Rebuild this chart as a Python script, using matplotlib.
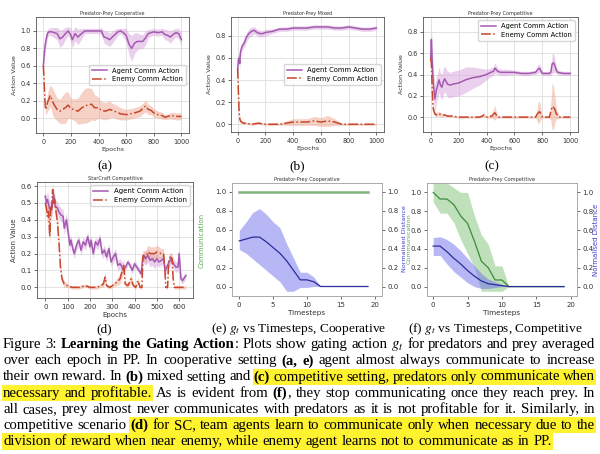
import numpy as np
import matplotlib
matplotlib.use('Agg')
import matplotlib.pyplot as plt
from matplotlib.patches import Rectangle

plt.rcParams['mathtext.fontset'] = 'stix'
plt.rcParams['font.family'] = ['DejaVu Sans']

# ------------------------------------------------------------------ data
# (a) Predator-Prey Cooperative
a_agent_x = [0, 10, 20, 30, 40, 60, 80, 100, 120, 140, 160, 180, 200, 210, 230, 250, 270, 300, 330, 360,
             400, 420, 440, 460, 480, 500, 520, 540, 560, 580, 600, 620, 640, 660, 680, 700, 720, 740, 760, 780,
             800, 830, 860, 880, 900, 920, 940, 960, 980, 1000]
a_agent = [0.60, 0.80, 0.90, 0.97, 0.99, 0.99, 0.98, 0.97, 0.91, 0.93, 0.97, 1.0, 0.95, 0.90, 0.97, 0.93, 0.96, 1.0, 1.0, 1.0,
           1.0, 1.0, 0.93, 0.92, 0.90, 0.93, 0.96, 0.99, 1.0, 0.98, 0.95, 0.85, 0.80, 0.86, 0.88, 0.88, 0.88, 0.92, 0.97, 0.98,
           0.99, 0.98, 0.99, 0.96, 0.95, 0.93, 0.96, 0.98, 0.97, 0.90]
a_agent_sd = [0.05, 0.10, 0.08, 0.05, 0.04, 0.05, 0.06, 0.07, 0.10, 0.09, 0.07, 0.05, 0.08, 0.10, 0.08, 0.09, 0.07, 0.03, 0.03, 0.03,
              0.03, 0.04, 0.07, 0.08, 0.08, 0.07, 0.06, 0.04, 0.03, 0.05, 0.08, 0.12, 0.15, 0.12, 0.10, 0.08, 0.08, 0.08, 0.05, 0.04,
              0.04, 0.04, 0.04, 0.06, 0.06, 0.07, 0.06, 0.05, 0.06, 0.08]
a_enemy_x = [0, 5, 10, 15, 20, 30, 40, 50, 60, 70, 80, 100, 120, 140, 160, 180, 200, 220, 250, 280,
             300, 320, 350, 370, 400, 420, 450, 480, 500, 530, 560, 600, 630, 660, 700, 720, 740, 760, 780, 800,
             830, 860, 880, 900, 930, 960, 1000]
a_enemy = [0.60, 0.45, 0.25, 0.12, 0.10, 0.18, 0.22, 0.26, 0.22, 0.18, 0.15, 0.10, 0.08, 0.10, 0.12, 0.15, 0.11, 0.10, 0.08, 0.12,
           0.14, 0.15, 0.16, 0.12, 0.12, 0.09, 0.08, 0.10, 0.09, 0.07, 0.05, 0.04, 0.05, 0.06, 0.08, 0.11, 0.14, 0.10, 0.09, 0.06,
           0.04, 0.03, 0.01, 0.02, 0.03, 0.02, 0.02]
a_enemy_sd = [0.05, 0.08, 0.08, 0.06, 0.06, 0.10, 0.12, 0.12, 0.14, 0.15, 0.15, 0.13, 0.14, 0.16, 0.18, 0.15, 0.12, 0.12, 0.15, 0.18,
              0.20, 0.20, 0.18, 0.15, 0.12, 0.10, 0.10, 0.10, 0.08, 0.08, 0.07, 0.06, 0.06, 0.06, 0.06, 0.06, 0.07, 0.06, 0.05, 0.05,
              0.04, 0.04, 0.03, 0.03, 0.04, 0.04, 0.04]

# (b) Predator-Prey Mixed
b_agent_x = [0, 5, 10, 15, 20, 30, 40, 50, 60, 80, 100, 120, 140, 160, 180, 200, 250, 300, 350, 400,
             450, 500, 550, 600, 650, 700, 750, 800, 850, 900, 950, 1000]
b_agent = [0.50, 0.58, 0.60, 0.55, 0.65, 0.70, 0.72, 0.74, 0.78, 0.82, 0.84, 0.85, 0.83, 0.82, 0.82, 0.83, 0.84, 0.86, 0.86, 0.87,
           0.87, 0.87, 0.88, 0.88, 0.88, 0.87, 0.87, 0.88, 0.87, 0.86, 0.86, 0.87]
b_agent_sd = [0.03, 0.05, 0.05, 0.05, 0.05, 0.04, 0.04, 0.04, 0.04, 0.04, 0.04, 0.03, 0.03, 0.03, 0.03, 0.03, 0.02, 0.02, 0.02, 0.02,
              0.02, 0.02, 0.02, 0.02, 0.02, 0.02, 0.02, 0.02, 0.02, 0.02, 0.02, 0.02]
b_enemy_x = [0, 5, 10, 15, 20, 30, 40, 60, 100, 150, 200, 250, 300, 350, 400, 450, 500, 550, 600, 650,
             700, 750, 800, 900, 1000]
b_enemy = [0.50, 0.30, 0.12, 0.05, 0.03, 0.02, 0.01, 0.01, 0.00, 0.01, 0.00, 0.00, 0.00, 0.01, 0.02, 0.02, 0.02, 0.03, 0.02, 0.03,
           0.02, 0.00, 0.00, 0.00, 0.00]
b_enemy_sd = [0.03, 0.05, 0.04, 0.03, 0.02, 0.01, 0.01, 0.01, 0.01, 0.01, 0.01, 0.01, 0.01, 0.02, 0.03, 0.03, 0.03, 0.04, 0.04, 0.05,
              0.03, 0.01, 0.01, 0.01, 0.01]

# (c) Predator-Prey Competitive
c_agent_x = [0, 5, 10, 15, 20, 30, 40, 50, 60, 70, 80, 90, 100, 120, 140, 160, 200, 250, 300, 350,
             400, 430, 450, 460, 480, 500, 550, 600, 650, 700, 750, 770, 780, 790, 800, 850, 860, 870, 880, 890,
             900, 910, 950, 1000]
c_agent = [0.55, 0.73, 0.55, 0.40, 0.30, 0.17, 0.25, 0.30, 0.35, 0.30, 0.28, 0.33, 0.36, 0.31, 0.30, 0.31, 0.32, 0.35, 0.37, 0.38,
           0.40, 0.42, 0.43, 0.46, 0.43, 0.42, 0.42, 0.42, 0.41, 0.41, 0.42, 0.45, 0.46, 0.43, 0.41, 0.41, 0.42, 0.50, 0.51, 0.48,
           0.44, 0.42, 0.41, 0.41]
c_agent_sd = [0.05, 0.12, 0.15, 0.15, 0.15, 0.12, 0.12, 0.12, 0.12, 0.12, 0.12, 0.12, 0.12, 0.12, 0.12, 0.12, 0.12, 0.12, 0.10, 0.08,
              0.05, 0.04, 0.04, 0.05, 0.03, 0.03, 0.03, 0.02, 0.02, 0.02, 0.02, 0.04, 0.04, 0.03, 0.02, 0.02, 0.03, 0.09, 0.09, 0.06,
              0.03, 0.02, 0.02, 0.02]
c_enemy_x = [0, 5, 10, 15, 20, 30, 40, 50, 60, 80, 100, 120, 150, 200, 250, 300, 350, 370, 380, 390,
             400, 440, 450, 460, 470, 480, 500, 600, 700, 750, 760, 770, 780, 790, 800, 850, 860, 870, 880, 890,
             900, 920, 1000]
c_enemy = [0.55, 0.50, 0.30, 0.12, 0.07, 0.03, 0.02, 0.03, 0.03, 0.02, 0.02, 0.01, 0.01, 0.00, 0.00, 0.00, 0.00, 0.01, 0.02, 0.01,
           0.00, 0.01, 0.03, 0.04, 0.02, 0.00, 0.00, 0.00, 0.00, 0.00, 0.02, 0.04, 0.05, 0.03, 0.00, 0.00, 0.05, 0.10, 0.09, 0.07,
           0.03, 0.00, 0.00]
c_enemy_sd = [0.03, 0.05, 0.08, 0.05, 0.03, 0.02, 0.02, 0.02, 0.02, 0.02, 0.01, 0.01, 0.01, 0.01, 0.01, 0.01, 0.01, 0.01, 0.02, 0.01,
              0.01, 0.02, 0.05, 0.07, 0.03, 0.01, 0.01, 0.01, 0.01, 0.01, 0.05, 0.10, 0.10, 0.05, 0.01, 0.01, 0.08, 0.22, 0.20, 0.12,
              0.05, 0.01, 0.01]

# (d) StarCraft Competitive
d_agent_x = [0, 5, 10, 20, 30, 37, 45, 55, 60, 70, 80, 85, 95, 105, 110, 115, 125, 130, 140, 150,
             160, 170, 180, 190, 200, 205, 215, 225, 235, 245, 255, 265, 275, 285, 295, 305, 315, 325, 335, 345,
             350, 360, 370, 380, 390, 400, 410, 420, 430, 437, 450, 460, 470, 480, 490, 500, 510, 520, 530, 537,
             545, 555, 565, 575, 585, 595, 600, 608, 615, 625, 630]
d_agent = [0.54, 0.50, 0.52, 0.46, 0.47, 0.55, 0.48, 0.47, 0.45, 0.43, 0.42, 0.35, 0.40, 0.30, 0.25, 0.28, 0.22, 0.20, 0.25, 0.28,
           0.22, 0.27, 0.25, 0.30, 0.24, 0.28, 0.20, 0.27, 0.25, 0.29, 0.20, 0.22, 0.18, 0.23, 0.15, 0.18, 0.20, 0.13, 0.14, 0.12,
           0.10, 0.12, 0.15, 0.13, 0.10, 0.14, 0.12, 0.10, 0.08, 0.18, 0.17, 0.19, 0.16, 0.17, 0.15, 0.17, 0.15, 0.16, 0.17, 0.10,
           0.12, 0.15, 0.17, 0.14, 0.12, 0.12, 0.20, 0.05, 0.04, 0.06, 0.07]
d_agent_sd = [0.03, 0.04, 0.05, 0.05, 0.05, 0.04, 0.04, 0.04, 0.04, 0.04, 0.04, 0.04, 0.04, 0.04, 0.04, 0.03, 0.03, 0.03, 0.03, 0.03,
              0.03, 0.03, 0.03, 0.03, 0.03, 0.03, 0.03, 0.03, 0.03, 0.03, 0.03, 0.03, 0.03, 0.03, 0.03, 0.03, 0.03, 0.03, 0.03, 0.03,
              0.02, 0.02, 0.02, 0.02, 0.02, 0.02, 0.02, 0.02, 0.02, 0.03, 0.04, 0.04, 0.04, 0.04, 0.04, 0.04, 0.03, 0.03, 0.03, 0.03,
              0.03, 0.03, 0.03, 0.03, 0.03, 0.03, 0.03, 0.02, 0.02, 0.02, 0.02]
d_enemy_x = [0, 5, 10, 15, 20, 25, 28, 33, 38, 42, 48, 55, 62, 68, 75, 85, 100, 120, 150, 180,
             200, 230, 250, 260, 268, 275, 290, 300, 320, 335, 345, 352, 358, 370, 385, 395, 405, 415, 425, 433,
             438, 450, 460, 470, 490, 500, 520, 530, 536, 540, 548, 553, 560, 568, 573, 578, 600, 630]
d_enemy = [0.50, 0.47, 0.42, 0.45, 0.30, 0.48, 0.45, 0.58, 0.50, 0.52, 0.45, 0.38, 0.25, 0.12, 0.05, 0.02, 0.01, 0.00, 0.00, 0.01,
           0.00, 0.00, 0.01, 0.02, 0.06, 0.01, 0.00, 0.01, 0.03, 0.05, 0.10, 0.13, 0.02, 0.01, 0.05, 0.01, 0.00, 0.04, 0.00, 0.00,
           0.19, 0.18, 0.21, 0.20, 0.20, 0.21, 0.20, 0.20, 0.10, 0.00, 0.00, 0.15, 0.18, 0.17, 0.05, 0.00, 0.00, 0.00]
d_enemy_sd = [0.03, 0.04, 0.05, 0.05, 0.05, 0.05, 0.05, 0.04, 0.04, 0.04, 0.04, 0.04, 0.04, 0.03, 0.02, 0.02, 0.01, 0.01, 0.01, 0.01,
              0.01, 0.01, 0.01, 0.02, 0.03, 0.01, 0.01, 0.01, 0.02, 0.03, 0.04, 0.04, 0.02, 0.01, 0.03, 0.01, 0.01, 0.02, 0.01, 0.01,
              0.03, 0.04, 0.04, 0.04, 0.04, 0.04, 0.03, 0.03, 0.03, 0.01, 0.01, 0.03, 0.03, 0.03, 0.02, 0.01, 0.01, 0.01]

# (e) gating vs timesteps, cooperative
timesteps = [0, 1, 2, 3, 4, 5, 6, 7, 8, 9, 10, 11, 12, 13, 14, 15, 16, 17, 18, 19]
e_comm = [1.0, 1.0, 1.0, 1.0, 1.0, 1.0, 1.0, 1.0, 1.0, 1.0, 1.0, 1.0, 1.0, 1.0, 1.0, 1.0, 1.0, 1.0, 1.0, 1.0]
e_dist = [0.48, 0.50, 0.52, 0.52, 0.47, 0.41, 0.35, 0.27, 0.17, 0.07, 0.07, 0.05, 0.0, 0.0, 0.0, 0.0, 0.0, 0.0, 0.0, 0.0]
e_dist_hi = [0.59, 0.68, 0.78, 0.82, 0.76, 0.68, 0.62, 0.45, 0.30, 0.15, 0.15, 0.10, 0.0, 0.0, 0.0, 0.0, 0.0, 0.0, 0.0, 0.0]
e_dist_lo = [0.39, 0.35, 0.29, 0.23, 0.17, 0.11, 0.05, -0.05, -0.05, -0.01, -0.01, 0.0, 0.0, 0.0, 0.0, 0.0, 0.0, 0.0, 0.0, 0.0]

# (f) gating vs timesteps, competitive
f_comm = [1.0, 0.93, 0.93, 0.87, 0.75, 0.67, 0.48, 0.27, 0.20, 0.07, 0.07, 0.0, 0.0, 0.0, 0.0, 0.0, 0.0, 0.0, 0.0, 0.0]
f_comm_hi = [1.10, 1.10, 1.10, 1.05, 1.00, 1.00, 0.75, 0.55, 0.45, 0.22, 0.22, 0.0, 0.0, 0.0, 0.0, 0.0, 0.0, 0.0, 0.0, 0.0]
f_comm_lo = [0.90, 0.78, 0.78, 0.68, 0.50, 0.35, 0.20, -0.05, -0.05, -0.05, -0.05, 0.0, 0.0, 0.0, 0.0, 0.0, 0.0, 0.0, 0.0, 0.0]
f_dist = [0.43, 0.43, 0.37, 0.30, 0.24, 0.17, 0.11, 0.06, 0.03, 0.02, 0.01, 0.0, 0.0, 0.0, 0.0, 0.0, 0.0, 0.0, 0.0, 0.0]
f_dist_hi = [0.52, 0.53, 0.50, 0.45, 0.38, 0.30, 0.22, 0.14, 0.08, 0.05, 0.02, 0.0, 0.0, 0.0, 0.0, 0.0, 0.0, 0.0, 0.0, 0.0]
f_dist_lo = [0.33, 0.33, 0.24, 0.16, 0.10, 0.04, 0.00, -0.02, -0.02, -0.01, 0.0, 0.0, 0.0, 0.0, 0.0, 0.0, 0.0, 0.0, 0.0, 0.0]

sub_labels = ['(a)', '(b)', '(c)', '(d)',
              '(e) $g_t$ vs Timesteps, Cooperative', '(f) $g_t$ vs Timesteps, Competitive']
caption = [
    "Figure 3: **Learning the Gating Action**: Plots show gating action $g_t$ for predators and prey averaged",
    "over each epoch in PP. In cooperative setting **(a, e)** agent almost always communicate to increase",
    "their own reward. In **(b)** mixed setting and ==**(c)** competitive setting, predators only communicate when==",
    "==necessary and profitable.== As is evident from **(f)**, they stop communicating once they reach prey. In",
    "all cases, prey almost never communicates with predators as it is not profitable for it. Similarly, in",
    "competitive scenario ==**(d)** for SC, team agents learn to communicate only when necessary due to the==",
    "==division of reward when near enemy, while enemy agent learns not to communicate as in PP.==",
]

# ------------------------------------------------------------------ figure
W, H = 600, 454
fig = plt.figure(figsize=(6, 4.54), dpi=100)
fig.patch.set_facecolor('white')

AGENT, AGENT_F = '#A45AAF', '#D7A3DC'
ENEMY, ENEMY_F = '#C8462B', '#EFA68F'
BLUE_L, BLUE_F = '#2C2C9C', '#7070EC'
GREEN_E, GREEN_F, GREEN_L = '#84B27F', '#80C377', '#3F8A3B'


def ax_at(x0, y0, x1, y1):
    return fig.add_axes([x0 / W, 1 - y1 / H, (x1 - x0) / W, (y1 - y0) / H])


def style(ax, fs, spine_col='#555555'):
    ax.tick_params(labelsize=fs, length=2.5, width=0.5, pad=1.5, colors='#333333')
    for s in ax.spines.values():
        s.set_linewidth(0.6)
        s.set_color(spine_col)


def epoch_panel(box, title, axx, ay, asd, exx, ey, esd, xlim, ylim, yticks, xticks,
                loc, fs, lfs, legfs, tfs):
    ax = ax_at(*box)
    ay, asd, ey, esd = map(np.asarray, (ay, asd, ey, esd))
    ax.fill_between(axx, ay - asd, ay + asd, color=AGENT_F, lw=0, alpha=0.5)
    ax.fill_between(exx, ey - esd, ey + esd, color=ENEMY_F, lw=0, alpha=0.5)
    ax.plot(axx, ay, color=AGENT, lw=1.1, label='Agent Comm Action')
    ax.plot(exx, ey, color=ENEMY, lw=1.1, ls='-.', label='Enemy Comm Action')
    ax.set_xlim(*xlim)
    ax.set_ylim(*ylim)
    ax.set_yticks(yticks)
    ax.set_xticks(xticks)
    ax.grid(True, color='#DDDDDD', lw=0.6)
    ax.set_axisbelow(True)
    style(ax, fs)
    ax.set_title(title, fontsize=tfs, pad=1.5, color='#333333')
    ax.set_xlabel('Epochs', fontsize=lfs, labelpad=1.5, color='#333333')
    ax.set_ylabel('Action Value', fontsize=lfs, labelpad=2, color='#333333')
    ax.legend(loc=loc, fontsize=legfs, framealpha=0.8, edgecolor='#CCCCCC',
              handlelength=2.2, borderpad=0.4, labelspacing=0.4)
    return ax


epoch_panel((36, 17, 189, 133), 'Predator-Prey Cooperative', a_agent_x, a_agent, a_agent_sd,
            a_enemy_x, a_enemy, a_enemy_sd, (-53, 1055), (-0.17, 1.16),
            [0.0, 0.2, 0.4, 0.6, 0.8, 1.0], [0, 200, 400, 600, 800, 1000],
            'center right', 4.7, 4.6, 4.9, 3.5)
epoch_panel((231, 17, 384, 132), 'Predator-Prey Mixed', b_agent_x, b_agent, b_agent_sd,
            b_enemy_x, b_enemy, b_enemy_sd, (-48, 1055), (-0.07, 0.97),
            [0.0, 0.2, 0.4, 0.6, 0.8], [0, 200, 400, 600, 800, 1000],
            'center right', 4.7, 4.6, 4.9, 3.5)
epoch_panel((423, 17, 578, 132), 'Predator-Prey Competitive', c_agent_x, c_agent, c_agent_sd,
            c_enemy_x, c_enemy, c_enemy_sd, (-55, 1055), (-0.14, 0.94),
            [0.0, 0.2, 0.4, 0.6, 0.8], [0, 200, 400, 600, 800, 1000],
            'upper right', 4.7, 4.6, 4.9, 3.5)
epoch_panel((37, 182, 193, 298), 'StarCraft Competitive', d_agent_x, d_agent, d_agent_sd,
            d_enemy_x, d_enemy, d_enemy_sd, (-37, 662), (-0.063, 0.624),
            [0.0, 0.1, 0.2, 0.3, 0.4, 0.5, 0.6], [0, 100, 200, 300, 400, 500, 600],
            'upper right', 5.0, 5.0, 5.0, 3.6)

# (e)
ae = ax_at(232, 183, 382, 296)
ae.fill_between(timesteps, e_dist_lo, e_dist_hi, color=BLUE_F, alpha=0.5, lw=0)
ae.plot(timesteps, e_comm, color=GREEN_E, lw=1.8)
ae.plot(timesteps, e_dist, color=BLUE_L, lw=0.9)
ae.set_xlim(-1.07, 21.07)
ae.set_ylim(-0.1, 1.09)
ae.set_xticks([0, 5, 10, 15, 20])
ae.set_yticks([0.0, 0.2, 0.4, 0.6, 0.8, 1.0])
style(ae, 5.0, '#AAAAAA')
ae.set_xlabel('Timesteps', fontsize=5.2, labelpad=1.5, color='#333333')
ae.set_title('Predator-Prey Cooperative', fontsize=3.6, pad=1.5, color='#333333')
ae2 = ae.twinx()
ae2.set_ylim(-0.1, 1.09)
ae2.set_yticks([0.0, 0.2, 0.4, 0.6, 0.8, 1.0])
style(ae2, 5.0, '#AAAAAA')

# (f)
af = ax_at(427, 183, 577, 296)
af.fill_between(timesteps, f_comm_lo, f_comm_hi, color=GREEN_F, alpha=0.5, lw=0)
af.fill_between(timesteps, f_dist_lo, f_dist_hi, color=BLUE_F, alpha=0.5, lw=0)
af.plot(timesteps, f_comm, color=GREEN_L, lw=0.9)
af.plot(timesteps, f_dist, color=BLUE_L, lw=0.9)
af.set_xlim(-0.9, 20.9)
af.set_ylim(-0.1, 1.1)
af.set_xticks([0, 5, 10, 15, 20])
af.set_yticks([0.0, 0.2, 0.4, 0.6, 0.8, 1.0])
style(af, 5.0, '#AAAAAA')
af.set_xlabel('Timesteps', fontsize=5.2, labelpad=1.5, color='#333333')
af.set_title('Predator-Prey Competitive', fontsize=3.6, pad=1.5, color='#333333')
af2 = af.twinx()
af2.set_ylim(-0.1, 1.1)
af2.set_yticks([0.0, 0.2, 0.4, 0.6, 0.8, 1.0])
style(af2, 5.0, '#AAAAAA')

# y labels for (e)/(f) (the two middle labels overlap, as in the source figure)
fig.text(202 / W, 1 - 240 / H, 'Communication', rotation=90, fontsize=5.0, color='#5FA85A',
         ha='center', va='center')
fig.text(404 / W, 1 - 239 / H, 'Normalised Distance', rotation=90, fontsize=4.6, color='#4040C8',
         ha='center', va='center')
fig.text(409 / W, 1 - 239 / H, 'Communication', rotation=90, fontsize=4.6, color='#5FA85A',
         ha='center', va='center')
fig.text(596 / W, 1 - 240 / H, 'Normalised Distance', rotation=90, fontsize=5.0, color='#4040C8',
         ha='center', va='center')

# ------------------------------------------------------------------ caption
SERIF = 'Liberation Serif'
renderer = fig.canvas.get_renderer()
_cache = {}


def measure(s, bold, fs):
    key = (s, bold, fs)
    if key not in _cache:
        t = fig.text(0, 0, s, fontsize=fs, family=SERIF, weight='bold' if bold else 'normal')
        _cache[key] = t.get_window_extent(renderer).width
        t.remove()
    return _cache[key]


def parse(line):
    words = []
    pieces, buf = [], ''
    bold = hl = False
    whl = False
    i = 0
    while i < len(line):
        if line.startswith('**', i):
            if buf:
                pieces.append((buf, bold)); buf = ''
            bold = not bold; i += 2; continue
        if line.startswith('==', i):
            if buf:
                pieces.append((buf, bold)); buf = ''
            hl = not hl; i += 2; continue
        c = line[i]
        if c == ' ':
            if buf:
                pieces.append((buf, bold)); buf = ''
            if pieces:
                words.append((pieces, whl))
            pieces, whl = [], False
        else:
            buf += c
            whl = whl or hl
        i += 1
    if buf:
        pieces.append((buf, bold))
    if pieces:
        words.append((pieces, whl))
    return words


parsed = [parse(l) for l in caption]
# calibrate font size so the last (unjustified) line is ~550 px wide
ref = 10.0
sp_ref = measure('a a', False, ref) - measure('aa', False, ref)
last_w = sum(measure(t, b, ref) for p, _ in parsed[-1] for t, b in p) + sp_ref * (len(parsed[-1]) - 1)
CFS = ref * 550.0 / last_w
space = measure('a a', False, CFS) - measure('aa', False, CFS)

X0, X1 = 3.0, 595.0
baselines = [348.3, 364.4, 380.5, 396.6, 412.7, 428.8, 444.9]
for li, (words, base) in enumerate(zip(parsed, baselines)):
    widths = [sum(measure(t, b, CFS) for t, b in p) for p, _ in words]
    n = len(words)
    if li < len(parsed) - 1 and n > 1:
        gap = (X1 - X0 - sum(widths)) / (n - 1)
    else:
        gap = space
    xs = []
    x = X0
    for w in widths:
        xs.append(x)
        x += w + gap
    # highlights
    j = 0
    while j < n:
        if words[j][1]:
            k = j
            while k + 1 < n and words[k + 1][1]:
                k += 1
            hx0 = xs[j] - 1
            hx1 = xs[k] + widths[k] + 1
            fig.add_artist(Rectangle((hx0 / W, 1 - (base + 4.6) / H), (hx1 - hx0) / W, 16.2 / H,
                                     transform=fig.transFigure, facecolor='#FFF22E',
                                     edgecolor='none', zorder=0))
            j = k + 1
        else:
            j += 1
    for (pieces, _), x in zip(words, xs):
        for t, b in pieces:
            fig.text(x / W, 1 - base / H, t, fontsize=CFS, family=SERIF,
                     weight='bold' if b else 'normal', ha='left', va='baseline', zorder=2)
            x += measure(t, b, CFS)

# sub-captions (sized so "(e) ... Cooperative" spans ~175 px as in the source)
SFS = CFS * 175.0 / measure(sub_labels[4], False, CFS)
sub_pos = [(105, 166), (297, 166), (492, 166), (104, 329), (298.5, 329), (495, 329)]
for lab, (sx, sy) in zip(sub_labels, sub_pos):
    fig.text(sx / W, 1 - sy / H, lab, fontsize=SFS, family=SERIF, ha='center', va='center')

fig.savefig('out.png', dpi=100, facecolor='white')
